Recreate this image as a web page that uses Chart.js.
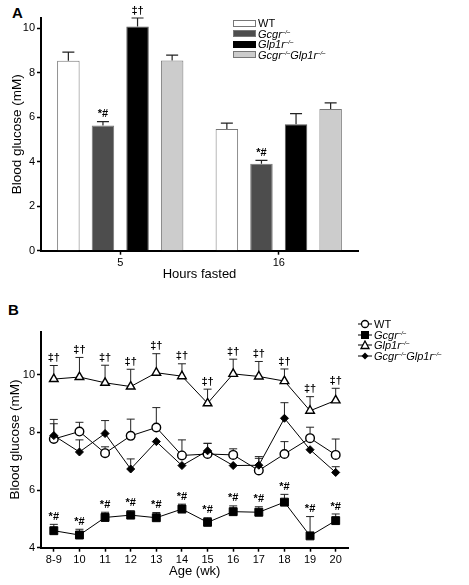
<!DOCTYPE html>
<html>
<head>
<meta charset="utf-8">
<script src="https://cdn.jsdelivr.net/npm/chart.js@4.4.0/dist/chart.umd.min.js"></script>
<style>
  body { margin: 0; width: 469px; height: 585px; position: relative; background: #fff; overflow: hidden;
         font-family: "Liberation Sans", Arial, sans-serif; color: #000; }
  canvas { position: absolute; left: 0; }
  #chartA { top: 0; }
  #chartB { top: 290px; }
  .panel-label { position: absolute; font-weight: bold; font-size: 15px; line-height: 15px; }
  .legend { position: absolute; font-size: 11px; }
  .legend .row { display: flex; align-items: center; height: 10.5px; white-space: nowrap; }
  .legend .swatch { width: 21px; height: 5px; border: 1px solid #777; margin-right: 2px; }
  .legend svg { margin-right: 2px; }
  sup { font-size: 6px; vertical-align: 4px; line-height: 0; }
</style>
</head>
<body>
<div class="panel-label" style="left:12px; top:5px;">A</div>
<div class="panel-label" style="left:8px; top:302px;">B</div>
<canvas id="chartA" width="469" height="290"></canvas>
<canvas id="chartB" width="469" height="295"></canvas>

<div class="legend" style="left:233px; top:18px;">
  <div class="row"><span class="swatch" style="background:#fff"></span>WT</div>
  <div class="row"><span class="swatch" style="background:#4d4d4d"></span><i>Gcgr<sup>–/–</sup></i></div>
  <div class="row"><span class="swatch" style="background:#000;border-color:#000"></span><i>Glp1r<sup>–/–</sup></i></div>
  <div class="row"><span class="swatch" style="background:#cccccc"></span><i>Gcgr<sup>–/–</sup>Glp1r<sup>–/–</sup></i></div>
</div>

<div class="legend" style="left:358px; top:319px;">
  <div class="row"><svg width="14" height="10"><line x1="0" y1="5" x2="14" y2="5" stroke="#000"/><circle cx="7" cy="5" r="3.5" fill="#fff" stroke="#000" stroke-width="1.3"/></svg>WT</div>
  <div class="row"><svg width="14" height="10"><line x1="0" y1="5" x2="14" y2="5" stroke="#000"/><rect x="3" y="1" width="8" height="8" fill="#000"/></svg><i>Gcgr<sup>–/–</sup></i></div>
  <div class="row"><svg width="14" height="10"><line x1="0" y1="5" x2="14" y2="5" stroke="#000"/><polygon points="7,1 11,8.5 3,8.5" fill="#fff" stroke="#000" stroke-width="1.3"/></svg><i>Glp1r<sup>–/–</sup></i></div>
  <div class="row"><svg width="14" height="10"><line x1="0" y1="5" x2="14" y2="5" stroke="#000"/><polygon points="7,1.5 10.5,5 7,8.5 3.5,5" fill="#000"/></svg><i>Gcgr<sup>–/–</sup>Glp1r<sup>–/–</sup></i></div>
</div>

<script>
// Panel A data: blood glucose after fasting
const hoursFasted = ['5', '16'];
const wtFast = [8.53, 5.46];
const wtFastSem = [0.39, 0.27];
const gcgrFast = [5.62, 3.90];
const gcgrFastSem = [0.18, 0.16];
const glp1rFast = [10.07, 5.68];
const glp1rFastSem = [0.38, 0.48];
const dkoFast = [8.54, 6.36];
const dkoFastSem = [0.24, 0.28];
const gcgrFastMarks = ['*#', '*#'];
const glp1rFastMarks = ['‡†', ''];
const yTicksA = [0, 2, 4, 6, 8, 10];

// Panel B data: blood glucose by age
const ages = ['8-9', '10', '11', '12', '13', '14', '15', '16', '17', '18', '19', '20'];
const wtAge = [7.77, 8.03, 7.28, 7.88, 8.17, 7.20, 7.25, 7.22, 6.68, 7.25, 7.80, 7.22];
const wtAgeSem = [0.68, 0.32, 0.22, 0.58, 0.69, 0.54, 0.37, 0.21, 0.48, 0.43, 0.38, 0.55];
const gcgrAge = [4.59, 4.44, 5.05, 5.13, 5.04, 5.34, 4.88, 5.25, 5.23, 5.58, 4.41, 4.94];
const gcgrAgeSem = [0.22, 0.20, 0.18, 0.15, 0.18, 0.17, 0.16, 0.20, 0.19, 0.27, 0.67, 0.23];
const glp1rAge = [9.85, 9.92, 9.72, 9.59, 10.07, 9.95, 9.01, 10.03, 9.94, 9.78, 8.75, 9.11];
const glp1rAgeSem = [0.47, 0.68, 0.61, 0.60, 0.66, 0.43, 0.49, 0.51, 0.52, 0.42, 0.49, 0.42];
const dkoAge = [7.89, 7.32, 7.96, 6.73, 7.68, 6.85, 7.36, 6.85, 6.86, 8.49, 7.40, 6.61];
const dkoAgeSem = [0.41, 0.42, 0.45, 0.35, 0.0, 0.0, 0.26, 0.0, 0.24, 0.54, 0.0, 0.20];
const gcgrAgeMarks = ages.map(() => '*#');
const glp1rAgeMarks = ages.map(() => '‡†');
const yTicksB = [4, 6, 8, 10];

const FONT = '"Liberation Sans", Arial, sans-serif';

// Upward SEM bars plus significance marks above the caps
const errorBars = {
    id: 'errorBars',
    beforeDatasetsDraw(chart, args, opts) {
        const ctx = chart.ctx;
        const yScale = chart.scales.y;
        ctx.save();
        ctx.lineWidth = opts.lineWidth;
        chart.data.datasets.forEach((ds, i) => {
            const meta = chart.getDatasetMeta(i);
            meta.data.forEach((el, j) => {
                if (!ds.sem || !ds.sem[j]) return;
                const top = yScale.getPixelForValue(ds.data[j] + ds.sem[j]);
                ctx.strokeStyle = opts.color;
                ctx.beginPath();
                ctx.moveTo(el.x, el.y);
                ctx.lineTo(el.x, top);
                ctx.moveTo(el.x - opts.cap / 2, top);
                ctx.lineTo(el.x + opts.cap / 2, top);
                ctx.stroke();
            });
        });
        ctx.restore();
    },
    afterDatasetsDraw(chart, args, opts) {
        const ctx = chart.ctx;
        const yScale = chart.scales.y;
        ctx.save();
        ctx.fillStyle = '#000';
        ctx.font = 'bold 11px ' + FONT;
        ctx.textAlign = 'center';
        ctx.textBaseline = 'bottom';
        chart.data.datasets.forEach((ds, i) => {
            if (!ds.marks) return;
            const meta = chart.getDatasetMeta(i);
            meta.data.forEach((el, j) => {
                if (!ds.marks[j]) return;
                const top = yScale.getPixelForValue(ds.data[j] + (ds.sem ? ds.sem[j] : 0));
                ctx.fillText(ds.marks[j], el.x, top - 2);
            });
        });
        ctx.restore();
    }
};

function axisStyle(extra) {
    return Object.assign({
        border: { display: true, color: '#000', width: 2 },
        grid: { display: true, drawOnChartArea: false, drawTicks: true, tickLength: 4, tickWidth: 1.5, tickColor: '#000', offset: false },
        ticks: { color: '#000', font: { family: FONT, size: 11 }, padding: 2 }
    }, extra);
}

// Panel A: grouped bars
new Chart(document.getElementById('chartA').getContext('2d'), {
    type: 'bar',
    data: {
        labels: hoursFasted,
        datasets: [
            { label: 'WT', data: wtFast, sem: wtFastSem, backgroundColor: '#ffffff', borderColor: '#777', borderWidth: 1 },
            { label: 'Gcgr-/-', data: gcgrFast, sem: gcgrFastSem, marks: gcgrFastMarks, backgroundColor: '#4d4d4d', borderColor: '#777', borderWidth: 1 },
            { label: 'Glp1r-/-', data: glp1rFast, sem: glp1rFastSem, marks: glp1rFastMarks, backgroundColor: '#000000', borderColor: '#555', borderWidth: 1 },
            { label: 'Gcgr-/-Glp1r-/-', data: dkoFast, sem: dkoFastSem, backgroundColor: '#cccccc', borderColor: '#777', borderWidth: 1 }
        ]
    },
    options: {
        responsive: false,
        animation: false,
        layout: { padding: { left: 0, right: 111, top: 18, bottom: 0 } },
        datasets: { bar: { categoryPercentage: 0.873, barPercentage: 0.65 } },
        plugins: {
            legend: { display: false },
            tooltip: { enabled: false },
            errorBars: { cap: 12, color: '#222', lineWidth: 1.2 }
        },
        scales: {
            x: axisStyle({
                offset: true,
                afterFit: s => { s.height = 39.3; },
                ticks: { color: '#000', font: { family: FONT, size: 11 }, padding: 2 },
                title: { display: true, text: 'Hours fasted', color: '#000', font: { family: FONT, size: 13 }, padding: { top: 0, bottom: 8 } }
            }),
            y: axisStyle({
                min: 0,
                max: 10.45,
                afterFit: s => { s.width = 41; },
                afterBuildTicks: s => { s.ticks = yTicksA.map(v => ({ value: v })); },
                title: { display: true, text: 'Blood glucose (mM)', color: '#000', font: { family: FONT, size: 13.5 }, padding: { top: 9, bottom: 0 } }
            })
        }
    },
    plugins: [errorBars]
});

// Panel B: lines with markers
new Chart(document.getElementById('chartB').getContext('2d'), {
    type: 'line',
    data: {
        labels: ages,
        datasets: [
            { label: 'Gcgr-/-Glp1r-/-', data: dkoAge, sem: dkoAgeSem, pointStyle: 'rectRot', pointRadius: 4, backgroundColor: '#000', pointBorderColor: '#000', pointBorderWidth: 1, borderColor: '#000', borderWidth: 1 },
            { label: 'WT', data: wtAge, sem: wtAgeSem, pointStyle: 'circle', pointRadius: 4.3, backgroundColor: '#fff', pointBorderColor: '#000', pointBorderWidth: 1.4, borderColor: '#000', borderWidth: 1 },
            { label: 'Gcgr-/-', data: gcgrAge, sem: gcgrAgeSem, marks: gcgrAgeMarks, pointStyle: 'rect', pointRadius: 5.6, backgroundColor: '#000', pointBorderColor: '#000', pointBorderWidth: 1, borderColor: '#000', borderWidth: 1 },
            { label: 'Glp1r-/-', data: glp1rAge, sem: glp1rAgeSem, marks: glp1rAgeMarks, pointStyle: 'triangle', pointRadius: 5, backgroundColor: '#fff', pointBorderColor: '#000', pointBorderWidth: 1.4, borderColor: '#000', borderWidth: 1 }
        ]
    },
    options: {
        responsive: false,
        animation: false,
        layout: { padding: { left: 0, right: 120.5, top: 41.5, bottom: 0 } },
        elements: { line: { tension: 0, fill: false } },
        plugins: {
            legend: { display: false },
            tooltip: { enabled: false },
            errorBars: { cap: 8, color: '#222', lineWidth: 1 }
        },
        scales: {
            x: axisStyle({
                offset: true,
                afterFit: s => { s.height = 37.3; },
                title: { display: true, text: 'Age (wk)', color: '#000', font: { family: FONT, size: 13 }, padding: { top: 0, bottom: 6 } }
            }),
            y: axisStyle({
                min: 4,
                max: 11.5,
                afterFit: s => { s.width = 41; },
                afterBuildTicks: s => { s.ticks = yTicksB.map(v => ({ value: v })); },
                title: { display: true, text: 'Blood glucose (mM)', color: '#000', font: { family: FONT, size: 13.5 }, padding: { top: 7, bottom: 0 } }
            })
        }
    },
    plugins: [errorBars]
});
</script>
</body>
</html>
